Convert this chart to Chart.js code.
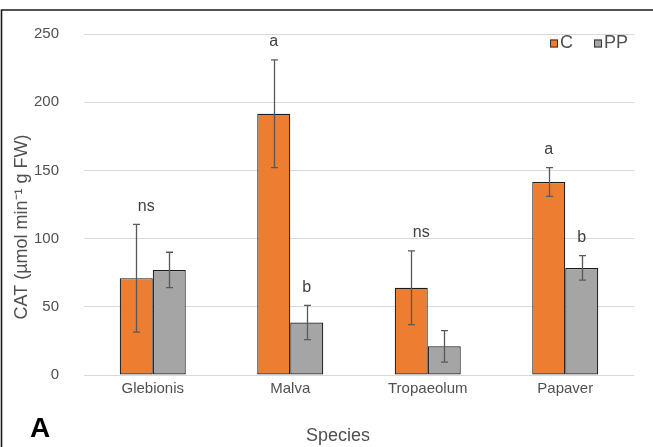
<!DOCTYPE html>
<html>
<head>
<meta charset="utf-8">
<script src="https://cdn.jsdelivr.net/npm/chart.js@4/dist/chart.umd.min.js"></script>
<style>
  html, body { margin: 0; padding: 0; background: #ffffff; }
  #wrap { position: relative; width: 653px; height: 447px; }
  canvas { display: block; }
</style>
</head>
<body>
<div id="wrap"><canvas id="chart" width="653" height="447"></canvas></div>
<script>
// Catalase activity by species, control (C) vs treatment (PP)
const species = ['Glebionis', 'Malva', 'Tropaeolum', 'Papaver'];
const seriesNames = ['C', 'PP'];
const valuesC = [71, 191.5, 64, 141.5];
const valuesPP = [77, 38.5, 21, 78.5];
const errorC = [39.5, 39.5, 27, 10.5];
const errorPP = [13, 12.5, 11.5, 9];
const letterC = ['ns', 'a', 'ns', 'a'];
const letterPP = ['', 'b', '', 'b'];
const yTicks = [0, 50, 100, 150, 200, 250];
const yTitle = 'CAT (\u00b5mol min\u207b\u00b9 g FW)';
const xTitle = 'Species';
const panelLabel = 'A';

const ORANGE = '#ED7D31';
const GREY = '#A5A5A5';
const TEXT = '#505050';
const FONT = '"Liberation Sans", Arial, sans-serif';

// Error bars (mean ± SD) drawn through the scales
const errorBarPlugin = {
  id: 'errorBars',
  afterDatasetsDraw(chart) {
    const ctx = chart.ctx;
    const y = chart.scales.y;
    ctx.save();
    ctx.strokeStyle = '#595959';
    ctx.lineWidth = 1.3;
    chart.data.datasets.forEach((ds, di) => {
      const meta = chart.getDatasetMeta(di);
      meta.data.forEach((bar, i) => {
        const v = ds.data[i], e = ds.errors[i];
        const yt = y.getPixelForValue(v + e);
        const yb = y.getPixelForValue(Math.max(0, v - e));
        const x = Math.round(bar.x) + 0.5;
        ctx.beginPath();
        ctx.moveTo(x, yt); ctx.lineTo(x, yb);
        ctx.moveTo(x - 3.5, yt); ctx.lineTo(x + 3.5, yt);
        ctx.moveTo(x - 3.5, yb); ctx.lineTo(x + 3.5, yb);
        ctx.stroke();
      });
    });
    ctx.restore();
  }
};

// Significance letters above the error bars
const lettersPlugin = {
  id: 'letters',
  afterDatasetsDraw(chart) {
    const ctx = chart.ctx;
    const y = chart.scales.y;
    ctx.save();
    ctx.font = '16px ' + FONT;
    ctx.fillStyle = '#404040';
    ctx.textAlign = 'center';
    ctx.textBaseline = 'middle';
    chart.data.datasets.forEach((ds, di) => {
      const meta = chart.getDatasetMeta(di);
      meta.data.forEach((bar, i) => {
        const t = ds.letters[i];
        if (!t) return;
        const top = y.getPixelForValue(ds.data[i] + ds.errors[i]);
        const dx = t === 'ns' ? 10 : 0;
        ctx.fillText(t, bar.x + dx, top - 18);
      });
    });
    ctx.restore();
  }
};

// Legend, axis titles, panel letter and frame
const decorPlugin = {
  id: 'decor',
  afterDraw(chart) {
    const ctx = chart.ctx;
    ctx.save();
    // legend in the upper right of the plot
    ctx.font = '18px ' + FONT;
    ctx.textBaseline = 'middle';
    ctx.textAlign = 'left';
    let lx = 550;
    const ly = 43;
    chart.data.datasets.forEach((ds) => {
      ctx.fillStyle = ds.backgroundColor;
      ctx.fillRect(lx, ly - 3.5, 8, 8);
      ctx.strokeStyle = '#333';
      ctx.lineWidth = 1;
      ctx.strokeRect(lx + 0.5, ly - 3, 7, 7);
      ctx.fillStyle = TEXT;
      ctx.fillText(ds.label, lx + 10, ly);
      lx += 10 + ctx.measureText(ds.label).width + 21;
    });
    // y title
    ctx.save();
    ctx.translate(22, 227);
    ctx.rotate(-Math.PI / 2);
    ctx.font = '18px ' + FONT;
    ctx.fillStyle = TEXT;
    ctx.textAlign = 'center';
    ctx.textBaseline = 'middle';
    ctx.fillText(yTitle, 0, 0);
    ctx.restore();
    // x title
    ctx.font = '18px ' + FONT;
    ctx.fillStyle = TEXT;
    ctx.textAlign = 'center';
    ctx.textBaseline = 'middle';
    ctx.fillText(xTitle, 338, 436);
    // panel letter
    ctx.font = 'bold 28px ' + FONT;
    ctx.fillStyle = '#000';
    ctx.textAlign = 'left';
    ctx.textBaseline = 'alphabetic';
    ctx.fillText(panelLabel, 30, 437);
    // frame
    ctx.strokeStyle = '#1a1a1a';
    ctx.lineWidth = 1.6;
    ctx.beginPath();
    ctx.moveTo(1.5, 447);
    ctx.lineTo(1.5, 10);
    ctx.lineTo(653, 10);
    ctx.stroke();
    ctx.restore();
  }
};

const bgPlugin = {
  id: 'bg',
  beforeDraw(chart) {
    const ctx = chart.ctx;
    ctx.save();
    ctx.fillStyle = '#ffffff';
    ctx.fillRect(0, 0, chart.width, chart.height);
    ctx.restore();
  }
};

new Chart(document.getElementById('chart'), {
  type: 'bar',
  data: {
    labels: species,
    datasets: [
      { label: seriesNames[0], data: valuesC, errors: errorC, letters: letterC,
        backgroundColor: ORANGE, borderColor: '#1a1a1a', borderWidth: 1.2, borderSkipped: false },
      { label: seriesNames[1], data: valuesPP, errors: errorPP, letters: letterPP,
        backgroundColor: GREY, borderColor: '#1a1a1a', borderWidth: 1.2, borderSkipped: false }
    ]
  },
  options: {
    responsive: false,
    animation: false,
    layout: { padding: { top: 30, right: 19, left: 0, bottom: 0 } },
    datasets: { bar: { categoryPercentage: 0.48, barPercentage: 1.0 } },
    plugins: { legend: { display: false }, tooltip: { enabled: false } },
    scales: {
      x: {
        grid: { display: false, drawTicks: false },
        border: { display: false },
        ticks: { color: TEXT, font: { family: FONT, size: 15 }, padding: 5 },
        afterFit(scale) { scale.height = 72; }
      },
      y: {
        min: yTicks[0],
        max: yTicks[yTicks.length - 1],
        grid: { color: '#D9D9D9', lineWidth: 1, drawTicks: false },
        border: { display: false },
        afterBuildTicks(scale) { scale.ticks = yTicks.map(v => ({ value: v })); },
        ticks: { color: TEXT, font: { family: FONT, size: 15 }, padding: 25 },
        afterFit(scale) { scale.width = 84; }
      }
    }
  },
  plugins: [bgPlugin, errorBarPlugin, lettersPlugin, decorPlugin]
});
</script>
</body>
</html>
